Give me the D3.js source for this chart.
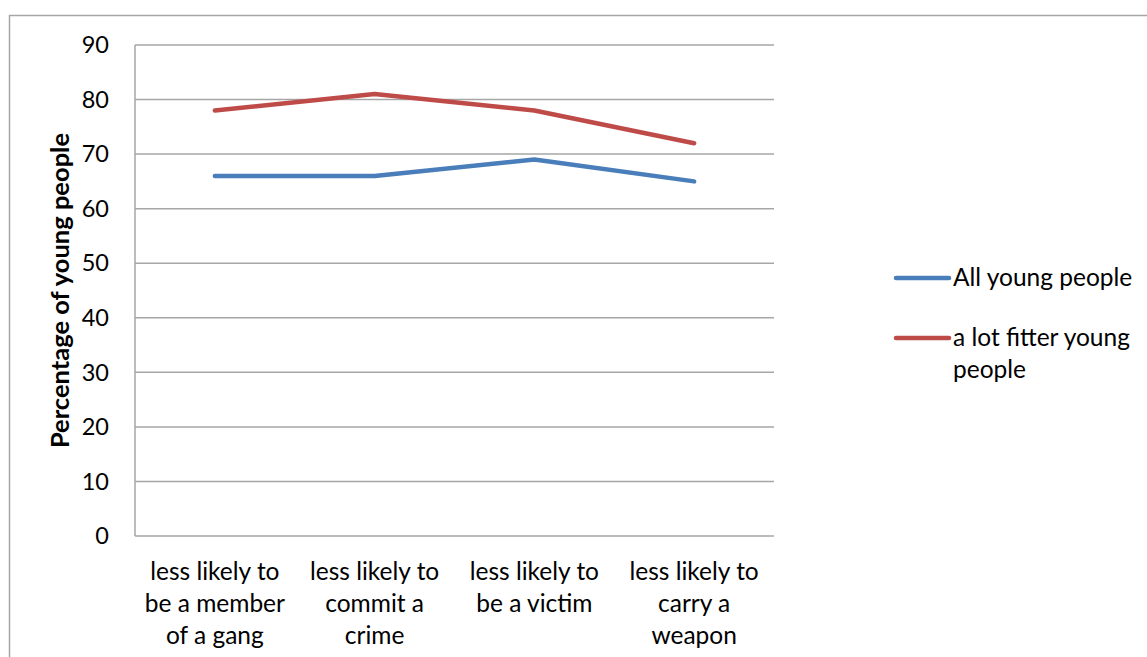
<!DOCTYPE html>
<html><head><meta charset="utf-8">
<script src="https://cdn.jsdelivr.net/npm/d3@7"></script>
<style>body{margin:0;background:#fff}svg{display:block}text{font-family:Lato,"Open Sans",sans-serif;fill:#000}</style>
</head><body>
<script>
const categories = [["less likely to","be a member","of a gang"],["less likely to","commit a","crime"],["less likely to","be a victim"],["less likely to","carry a","weapon"]];
const allYoung = [66, 66, 69, 65];
const fitterYoung = [78, 81, 78, 72];
const yTicks = [0,10,20,30,40,50,60,70,80,90];
const seriesNames = [["All young people"],["a lot fitter young","people"]];
const colors = ["#4a7ebb","#be4b48"];

const W=1147,H=657,FS=24.5;
const svg=d3.select("body").append("svg").attr("width",W).attr("height",H);
svg.append("rect").attr("x",9.5).attr("y",15.5).attr("width",1200).attr("height",700).attr("fill","#fff").attr("stroke","#a6a6a6").attr("stroke-width",1.5);

const L=135,R=774,T=45,B=536;
const x=d3.scaleBand().domain(d3.range(categories.length)).range([L,R]);
const y=d3.scaleLinear().domain([0,90]).range([B,T]);

const g=svg.append("g");
g.selectAll("line.grid").data(yTicks).join("line").attr("class","grid")
 .attr("x1",L).attr("x2",R).attr("y1",d=>y(d)).attr("y2",d=>y(d))
 .attr("stroke","#a6a6a6").attr("stroke-width",1.5);
g.append("line").attr("x1",L).attr("x2",L).attr("y1",T).attr("y2",B).attr("stroke","#a6a6a6").attr("stroke-width",1.5);

g.selectAll("text.ytick").data(yTicks).join("text").attr("class","ytick")
 .attr("x",109).attr("y",d=>y(d)).attr("dy","0.35em").attr("text-anchor","end")
 .attr("font-size",23.5).text(d=>d);

categories.forEach((lines,i)=>{
  const t=g.append("text").attr("text-anchor","middle").attr("font-size",FS);
  lines.forEach((s,j)=>t.append("tspan").attr("x",x(i)+x.bandwidth()/2).attr("y",580+j*32).text(s));
});

g.append("text").attr("transform",`translate(69,${(T+B)/2}) rotate(-90)`)
 .attr("text-anchor","middle").attr("font-size",25.5).attr("font-weight","bold").text("Percentage of young people");

const line=d3.line().x((d,i)=>x(i)+x.bandwidth()/2).y(d=>y(d));
[allYoung,fitterYoung].forEach((s,k)=>{
  g.append("path").datum(s).attr("d",line).attr("fill","none").attr("stroke",colors[k]).attr("stroke-width",4.5).attr("stroke-linejoin","round").attr("stroke-linecap","round");
});

const ly=[278,338];
seriesNames.forEach((lines,k)=>{
  g.append("line").attr("x1",896).attr("x2",949).attr("y1",ly[k]).attr("y2",ly[k]).attr("stroke",colors[k]).attr("stroke-width",4.5).attr("stroke-linecap","round");
  const t=g.append("text").attr("font-size",FS);
  lines.forEach((s,j)=>t.append("tspan").attr("x",953).attr("y",ly[k]+8+j*32).text(s));
});
</script>
</body></html>
